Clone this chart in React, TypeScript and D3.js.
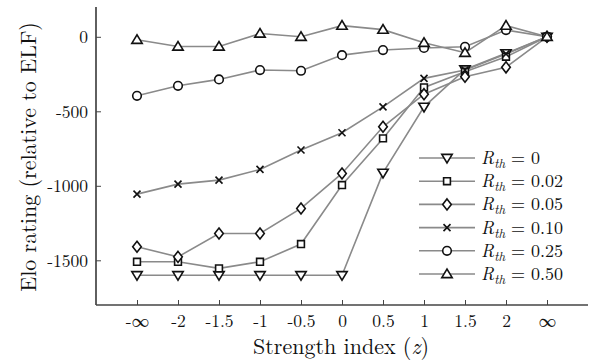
import { FC, useEffect, useRef } from "react";
import * as d3 from "d3";

const categories = ["-∞", "-2", "-1.5", "-1", "-0.5", "0", "0.5", "1", "1.5", "2", "∞"];

const rth0 = [-1600, -1600, -1600, -1600, -1600, -1600, -913, -470, -219, -111, 0];
const rth002 = [-1510, -1510, -1554, -1510, -1391, -995, -682, -340, -235, -134, 0];
const rth005 = [-1409, -1477, -1320, -1320, -1152, -917, -604, -385, -268, -205, 0];
const rth010 = [-1056, -989, -962, -890, -760, -644, -470, -279, -223, -115, 0];
const rth025 = [-396, -329, -286, -223, -228, -123, -89, -75, -67, 45, 0];
const rth050 = [-20, -65, -65, 22, 0, 75, 48, -40, -107, 75, 0];

const yTicks = [0, -500, -1000, -1500];

const seriesLabels = ["0", "0.02", "0.05", "0.10", "0.25", "0.50"];
const seriesValues = [rth0, rth002, rth005, rth010, rth025, rth050];
const seriesMarkers = ["triDown", "square", "diamond", "cross", "circle", "triUp"];

// marker outlines, centred on 0,0
const markerPath = (kind: string): string => {
    switch (kind) {
        case "triDown": return "M-5.2,-3.6L5.2,-3.6L0,5Z";
        case "triUp": return "M-5.2,3.6L5.2,3.6L0,-5Z";
        case "square": return "M-3.4,-3.4H3.4V3.4H-3.4Z";
        case "diamond": return "M0,-5.5L4.3,0L0,5.5L-4.3,0Z";
        case "cross": return "M-3.5,-3.5L3.5,3.5M3.5,-3.5L-3.5,3.5";
        default: return "M4.3,0A4.3,4.3 0 1,1 -4.3,0A4.3,4.3 0 1,1 4.3,0Z";
    }
};

const font = `"Latin Modern Roman", "Liberation Serif", serif`;

const EloChart: FC = () => {
    const svgRef = useRef<SVGSVGElement | null>(null);
    const width = 591;
    const height = 362;

    useEffect(() => {
        if (!svgRef.current) return;
        const svg = d3.select(svgRef.current);
        svg.selectAll("*").remove();

        const left = 96, right = 588, top = 7, bottom = 305;

        const x = d3.scaleLinear().domain([-1, categories.length]).range([left, right]);
        const y = d3.scaleLinear().domain([-1800, 200]).range([bottom, top]);

        const axisColor = "#444";

        // Y axis, ticks pointing inward
        const yAxis = svg.append("g")
            .attr("transform", `translate(${left},0)`)
            .call(d3.axisRight(y).tickValues(yTicks).tickSize(5).tickFormat(d => String(d)));
        yAxis.select(".domain").attr("stroke", axisColor).attr("stroke-width", 1.7)
            .attr("d", `M0,${top}V${bottom}`);
        yAxis.selectAll(".tick line").attr("stroke", axisColor).attr("stroke-width", 1);
        yAxis.selectAll(".tick text")
            .attr("x", -8)
            .attr("dy", "0.35em")
            .attr("text-anchor", "end")
            .attr("fill", "#111")
            .style("font-family", font)
            .style("font-size", "17.5px");

        // X axis, ticks pointing up
        const xAxis = svg.append("g")
            .attr("transform", `translate(0,${bottom})`)
            .call(d3.axisTop(x)
                .tickValues(d3.range(categories.length))
                .tickSize(5)
                .tickFormat((d) => categories[d as number]));
        xAxis.select(".domain").attr("stroke", axisColor).attr("stroke-width", 1.7)
            .attr("d", `M${left},0H${right}`);
        xAxis.selectAll(".tick line").attr("stroke", axisColor).attr("stroke-width", 1);
        xAxis.selectAll(".tick text")
            .attr("y", 21.5)
            .attr("dy", 0)
            .attr("fill", "#111")
            .style("font-family", font)
            .style("font-size", "17.5px");

        // axis titles
        svg.append("text")
            .attr("x", 341)
            .attr("y", 354)
            .attr("text-anchor", "middle")
            .attr("fill", "#111")
            .style("font-family", font)
            .style("font-size", "22px")
            .html("Strength index (<tspan font-style='italic'>z</tspan>)");

        svg.append("text")
            .attr("transform", `translate(36,157) rotate(-90)`)
            .attr("text-anchor", "middle")
            .attr("fill", "#111")
            .style("font-family", font)
            .style("font-size", "22px")
            .text("Elo rating (relative to ELF)");

        const line = d3.line<number>()
            .x((_, i) => x(i))
            .y(d => y(d));

        seriesValues.forEach((vals) => {
            svg.append("path")
                .datum(vals)
                .attr("fill", "none")
                .attr("stroke", "#8a8a8a")
                .attr("stroke-width", 1.6)
                .attr("d", line);
        });

        seriesValues.forEach((vals, s) => {
            svg.append("g").selectAll("path")
                .data(vals)
                .join("path")
                .attr("transform", (d, i) => `translate(${x(i)},${y(d)})`)
                .attr("d", markerPath(seriesMarkers[s]))
                .attr("fill", seriesMarkers[s] === "cross" ? "none" : "#fff")
                .attr("stroke", "#111")
                .attr("stroke-width", 1.6);
        });

        // legend
        const legend = svg.append("g").attr("transform", "translate(419,158)");
        seriesLabels.forEach((lab, s) => {
            const row = legend.append("g").attr("transform", `translate(0,${s * 23.2})`);
            row.append("line")
                .attr("x1", 0).attr("x2", 56)
                .attr("stroke", "#8a8a8a").attr("stroke-width", 1.6);
            row.append("path")
                .attr("transform", "translate(28,0)")
                .attr("d", markerPath(seriesMarkers[s]))
                .attr("fill", seriesMarkers[s] === "cross" ? "none" : "#fff")
                .attr("stroke", "#111")
                .attr("stroke-width", 1.6);
            row.append("text")
                .attr("x", 62)
                .attr("y", 6)
                .attr("fill", "#111")
                .style("font-family", font)
                .style("font-size", "18px")
                .html(`<tspan font-style="italic">R</tspan><tspan font-style="italic" font-size="13px" dy="4">th</tspan><tspan dy="-4"> = ${lab}</tspan>`);
        });
    }, []);

    return (
        <svg ref={svgRef} width={width} height={height}
            style={{ position: "absolute", left: 0, top: 0, background: "#fff" }}></svg>
    );
};

export default function App() {
    return <EloChart />;
}
